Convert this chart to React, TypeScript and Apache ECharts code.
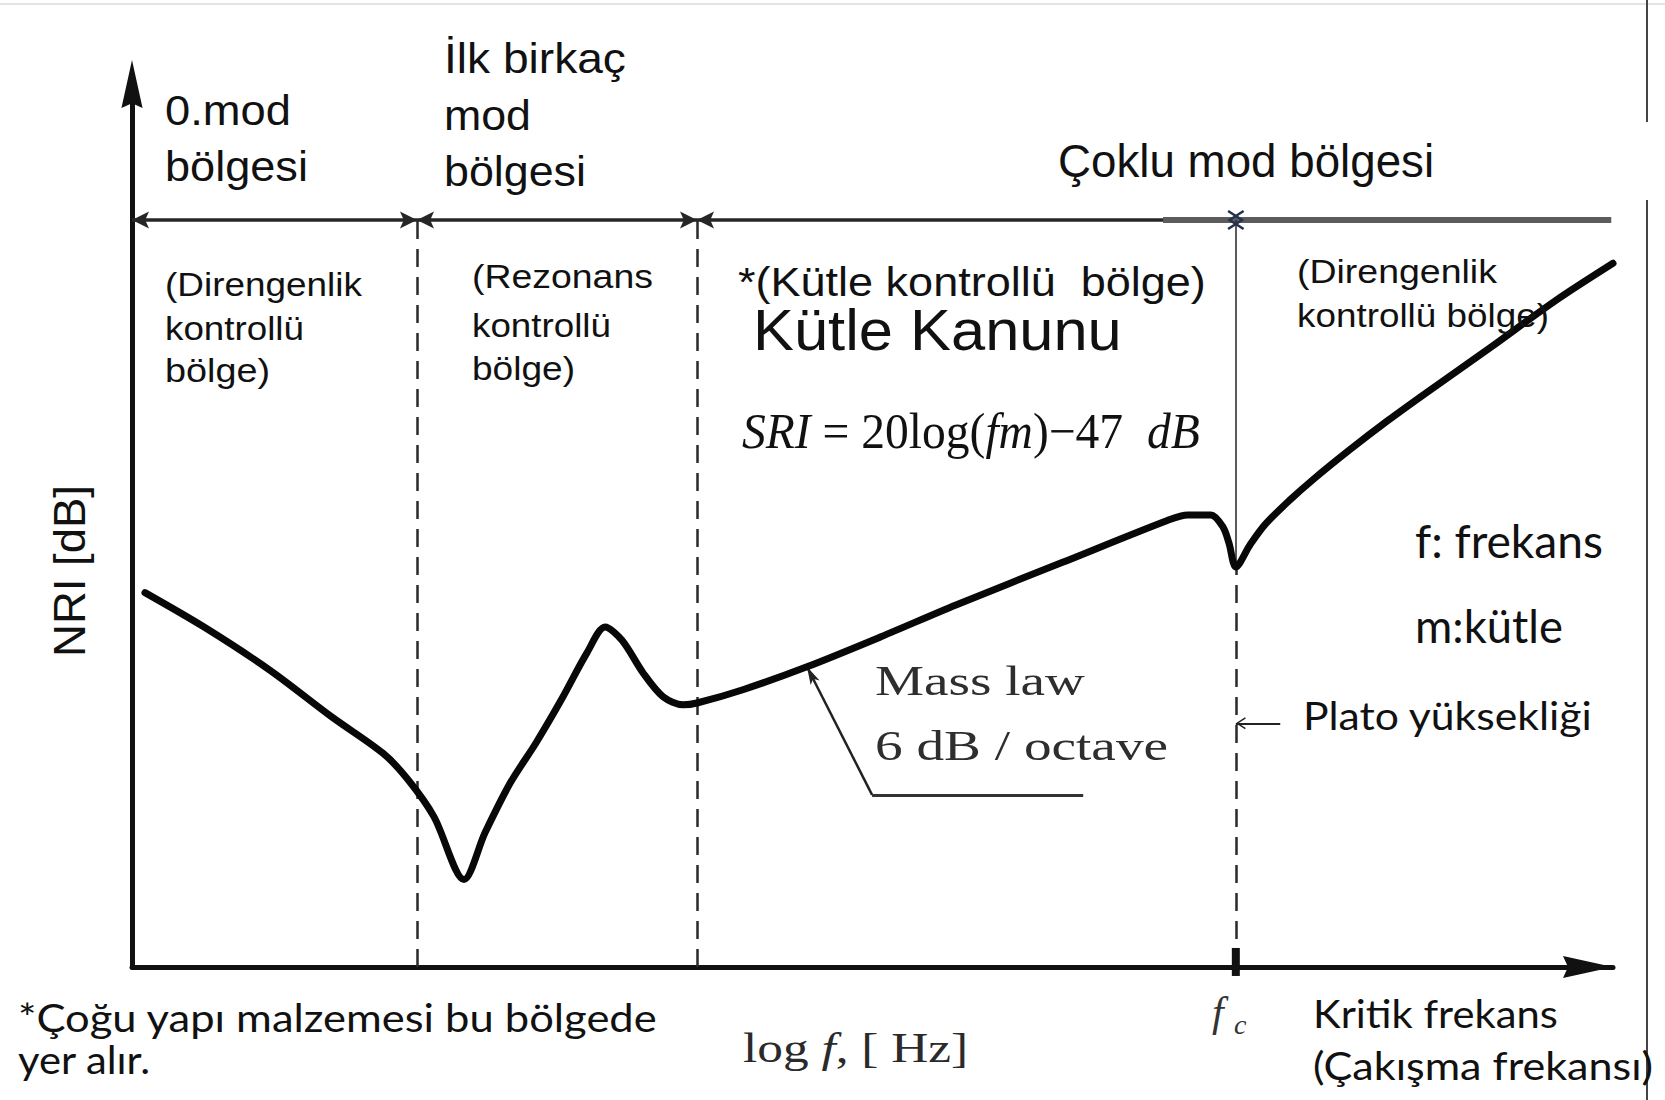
import { useEffect, useRef } from 'react';
import * as echarts from 'echarts';

// Curve: position on the log f axis (arbitrary units) and relative NRI level (dB)
const logF = [
  0.89, 4.95, 9.48, 13.74, 17.24, 18.96, 20.74, 22.8, 24.24, 25.96,
  27.75, 29.46, 31.25, 32.49, 33.65, 35.1, 36.47, 37.84, 38.8, 41.95,
  46.35, 51.43, 56.58, 63.86, 71.14, 72.51, 74.09, 74.93, 75.33, 75.8,
  76.77, 77.8, 79.52, 81.1, 83.64, 86.25, 88.85, 93.32, 97.78, 101.7,
];
const nriDb = [
  42.4, 38.5, 33.6, 28.3, 24.2, 21.2, 17.0, 9.9, 15.2, 20.8,
  25.4, 30.2, 35.6, 38.5, 37.0, 33.3, 30.6, 29.7, 29.9, 31.4,
  34.0, 37.4, 41.0, 45.8, 50.6, 51.2, 51.2, 49.8, 48.0, 45.3,
  47.8, 50.1, 52.9, 55.2, 58.6, 61.9, 65.0, 70.2, 75.5, 79.7,
];

// Extent of the log f axis
const logFMax = 101.7;
// Region boundaries on the log f axis (axis origin, stiffness/resonance, resonance/mass)
const regionEdges = [0, 19.57, 38.8];
// Critical (coincidence) frequency
const fc = 75.8;
// Level of the region arrows and top of the boundary lines
const headerLevel = 84.6;
const boundaryTop = 85.5;
const headerEnd = 101.58;
const heavyStart = 70.8;
// Mass-law leader line: point on the curve, elbow, end
const massLawLeader = [
  [46.35, 34.0],
  [50.82, 19.5],
  [65.32, 19.5],
];
// "Plato yüksekliği" pointer
const plateauArrow = [
  [78.85, 27.6],
  [75.8, 27.6],
];

const SANS = '"Liberation Sans", Arial, sans-serif';
const SERIF = '"Liberation Serif", "Times New Roman", serif';
const HUMAN = 'Lato, "Open Sans", sans-serif';

const CENTRAL: Record<string, number> = {
  [SANS]: 0.3465,
  [SERIF]: 0.3375,
  [HUMAN]: 0.387,
};

const DART = 'path://M0,0 L9,18 L0,14 L-9,18 Z';
const CHEVRON = 'path://M0,0 L10,16 L8,17.5 L0,4.5 L-8,17.5 L-10,16 Z';
const TIP = 'path://M0,0 L5,16 L0,12 L-5,16 Z';
const AXIS_HEAD = 'path://M0,0 L11,50 L0,45 L-11,50 Z';

type Label = {
  text: string;
  x: number;
  base: number;
  size: number;
  family: string;
  width?: number;
  color?: string;
  italic?: boolean;
  rich?: boolean;
  measure?: string;
};

const labels: Label[] = [
  { text: '0.mod', x: 165, base: 125, size: 42, family: SANS, width: 126 },
  { text: 'bölgesi', x: 165, base: 181, size: 42, family: SANS, width: 143 },
  { text: 'İlk birkaç', x: 444, base: 73, size: 42, family: SANS, width: 182 },
  { text: 'mod', x: 444, base: 130, size: 42, family: SANS, width: 87 },
  { text: 'bölgesi', x: 444, base: 186, size: 42, family: SANS, width: 142 },
  { text: 'Çoklu mod bölgesi', x: 1058, base: 177, size: 46, family: SANS, width: 376 },
  { text: '(Direngenlik', x: 165, base: 296, size: 33, family: SANS, width: 197 },
  { text: 'kontrollü', x: 165, base: 340, size: 33, family: SANS, width: 139 },
  { text: 'bölge)', x: 165, base: 382, size: 33, family: SANS, width: 105 },
  { text: '(Rezonans', x: 472, base: 288, size: 33, family: SANS, width: 181 },
  { text: 'kontrollü', x: 472, base: 337, size: 33, family: SANS, width: 139 },
  { text: 'bölge)', x: 472, base: 380, size: 33, family: SANS, width: 103 },
  { text: '*(Kütle kontrollü  bölge)', x: 738, base: 296, size: 41, family: SANS, width: 468 },
  { text: 'Kütle Kanunu', x: 753, base: 350, size: 58, family: SANS, width: 369 },
  { text: '(Direngenlik', x: 1297, base: 283, size: 33, family: SANS, width: 200 },
  { text: 'kontrollü bölge)', x: 1297, base: 327, size: 33, family: SANS, width: 252 },
  {
    text: '{i|SRI} = 20log({i|fm})−47  {i|dB}',
    measure: 'SRI = 20log(fm)−47  dB',
    rich: true,
    x: 742, base: 448, size: 50, family: SERIF, width: 471,
  },
  { text: 'f: frekans', x: 1415, base: 558, size: 46, family: HUMAN, width: 188 },
  { text: 'm:kütle', x: 1415, base: 643, size: 46, family: HUMAN, width: 148 },
  { text: 'Plato yüksekliği', x: 1303, base: 730, size: 38, family: HUMAN, width: 290 },
  { text: 'Mass law', x: 875, base: 695, size: 43, family: SERIF, width: 210, color: '#2e2e2e' },
  { text: '6 dB / octave', x: 875, base: 760, size: 43, family: SERIF, width: 293, color: '#2e2e2e' },
  {
    text: 'log {i|f}, [ Hz]',
    measure: 'log f, [ Hz]',
    rich: true,
    x: 743, base: 1062, size: 42, family: SERIF, width: 228, color: '#2a2a2a',
  },
  { text: 'f', x: 1212, base: 1026, size: 42, family: SERIF, italic: true, color: '#333' },
  { text: 'c', x: 1234, base: 1034, size: 28, family: SERIF, italic: true, color: '#333' },
  { text: '*Çoğu yapı malzemesi bu bölgede', x: 18, base: 1032, size: 38, family: HUMAN, width: 640 },
  { text: 'yer alır.', x: 18, base: 1074, size: 38, family: HUMAN, width: 133 },
  { text: 'Kritik frekans', x: 1313, base: 1028, size: 38, family: HUMAN, width: 245 },
  { text: '(Çakışma frekansı)', x: 1313, base: 1080, size: 38, family: HUMAN, width: 340 },
];

const measureCtx =
  typeof document !== 'undefined' ? document.createElement('canvas').getContext('2d') : null;

function fitScale(text: string, size: number, family: string, italic: boolean, target?: number) {
  if (!measureCtx || !target) return 1;
  measureCtx.font = `${italic ? 'italic' : 'normal'} normal ${size}px ${family}`;
  const w = measureCtx.measureText(text).width;
  if (!w) return 1;
  return Math.max(0.8, Math.min(1.4, target / w));
}

function textElement(l: Label) {
  const scaleX = fitScale(l.measure ?? l.text, l.size, l.family, !!l.italic, l.width);
  const style: any = {
    text: l.text,
    x: 0,
    y: 0,
    fill: l.color ?? '#111',
    fontSize: l.size,
    fontFamily: l.family,
    fontStyle: l.italic ? 'italic' : 'normal',
    align: 'left',
    verticalAlign: 'middle',
    textAlign: 'left',
    textVerticalAlign: 'middle',
  };
  if (l.rich) {
    style.rich = {
      i: { fontStyle: 'italic', fontSize: l.size, fontFamily: l.family, fill: l.color ?? '#111' },
    };
  }
  return {
    type: 'text',
    x: l.x,
    y: l.base - (CENTRAL[l.family] ?? 0.35) * l.size,
    scaleX,
    silent: true,
    z: 20,
    style,
  };
}

type End = { symbol: string; size: number[]; offset?: number[] };

function segment(a: number[], b: number[], lineStyle: any, from?: End, to?: End) {
  const end = (e?: End) =>
    e
      ? { symbol: e.symbol, symbolSize: e.size, symbolOffset: e.offset ?? [0, 0] }
      : { symbol: 'none' };
  return [
    { coord: a, lineStyle, ...end(from) },
    { coord: b, ...end(to) },
  ];
}

function buildOption() {
  const curve = logF.map((x, i) => [x, nriDb[i]]);
  const fcLevel = nriDb[logF.indexOf(fc)];

  const dart: End = { symbol: DART, size: [17, 17], offset: [0, 8.5] };
  const chevron: End = { symbol: CHEVRON, size: [20, 17] };
  const headerStyle = { color: '#262626', width: 3.5, type: 'solid' };
  const dashed = { color: '#2a2a2a', width: 2.5, type: [18, 10] };

  const marks = [
    segment([regionEdges[0], headerLevel], [regionEdges[1], headerLevel], headerStyle, dart, dart),
    segment([regionEdges[1], headerLevel], [regionEdges[2], headerLevel], headerStyle, dart, dart),
    segment([regionEdges[2], headerLevel], [fc, headerLevel], headerStyle, dart),
    segment([heavyStart, headerLevel], [headerEnd, headerLevel], { color: '#5c5c5c', width: 6, type: 'solid' }),
    segment([fc - 3, headerLevel], [fc, headerLevel], { color: '#243250', width: 0 }, undefined, chevron),
    segment([fc, headerLevel], [fc + 3, headerLevel], { color: '#243250', width: 0 }, chevron),
    segment([regionEdges[1], 0], [regionEdges[1], boundaryTop], dashed),
    segment([regionEdges[2], 0], [regionEdges[2], boundaryTop], dashed),
    segment([fc, 0], [fc, fcLevel], dashed),
    segment([fc, fcLevel], [fc, headerLevel], { color: '#333', width: 1.6, type: 'solid' }),
    segment(massLawLeader[0], massLawLeader[1], { color: '#222', width: 2.5, type: 'solid' }, {
      symbol: TIP,
      size: [10, 18],
      offset: [0, 9],
    }),
    segment(massLawLeader[1], massLawLeader[2], { color: '#333', width: 3, type: 'solid' }),
    segment(plateauArrow[0], plateauArrow[1], { color: '#222', width: 1.8, type: 'solid' }, undefined, {
      symbol: CHEVRON,
      size: [12, 10],
      offset: [0, 5],
    }),
  ];

  const axisCommon = {
    type: 'value',
    min: 0,
    axisTick: { show: false },
    axisLabel: { show: false },
    splitLine: { show: false },
  };

  return {
    animation: false,
    backgroundColor: '#ffffff',
    grid: { left: 132, right: 52, top: 84, bottom: 133, containLabel: false },
    xAxis: {
      ...axisCommon,
      max: logFMax,
      axisLine: {
        show: true,
        symbol: ['none', AXIS_HEAD],
        symbolSize: [22, 50],
        symbolOffset: [0, -25],
        lineStyle: { color: '#111', width: 5 },
      },
    },
    yAxis: {
      ...axisCommon,
      max: 100,
      axisLine: {
        show: true,
        symbol: ['none', AXIS_HEAD],
        symbolSize: [22, 48],
        lineStyle: { color: '#111', width: 5 },
      },
    },
    series: [
      {
        type: 'line',
        data: curve,
        symbol: 'none',
        smooth: 0.3,
        clip: false,
        silent: true,
        z: 5,
        lineStyle: { color: '#080808', width: 7, cap: 'round', join: 'round' },
        markLine: {
          silent: true,
          symbol: ['none', 'none'],
          label: { show: false },
          emphasis: { disabled: true },
          animation: false,
          data: marks,
        },
        markPoint: {
          silent: true,
          animation: false,
          label: { show: false },
          data: [
            {
              coord: [fc, 0.57],
              symbol: 'rect',
              symbolSize: [8, 28],
              itemStyle: { color: '#111' },
            },
          ],
        },
      },
    ],
    graphic: {
      elements: [
        {
          type: 'line',
          silent: true,
          shape: { x1: 0, y1: 4, x2: 1665, y2: 4 },
          style: { stroke: '#e4e4e4', lineWidth: 2 },
        },
        {
          type: 'line',
          silent: true,
          shape: { x1: 1647, y1: 0, x2: 1647, y2: 122 },
          style: { stroke: '#444', lineWidth: 2 },
        },
        {
          type: 'line',
          silent: true,
          shape: { x1: 1647, y1: 200, x2: 1647, y2: 1100 },
          style: { stroke: '#444', lineWidth: 2 },
        },
        {
          type: 'text',
          x: 70,
          y: 571,
          rotation: Math.PI / 2,
          scaleX: fitScale('NRI [dB]', 45, SANS, false, 172),
          silent: true,
          style: {
            text: 'NRI [dB]',
            x: 0,
            y: 0,
            fill: '#111',
            fontSize: 45,
            fontFamily: SANS,
            align: 'center',
            verticalAlign: 'middle',
            textAlign: 'center',
            textVerticalAlign: 'middle',
          },
        },
        ...labels.map(textElement),
      ],
    },
  };
}

export default function App() {
  const ref = useRef<HTMLDivElement>(null);
  useEffect(() => {
    if (!ref.current) return;
    const chart = echarts.init(ref.current, null, { renderer: 'svg' });
    chart.setOption(buildOption() as any);
    return () => chart.dispose();
  }, []);
  return (
    <div
      ref={ref}
      style={{ position: 'fixed', left: 0, top: 0, width: 1665, height: 1100, background: '#fff' }}
    />
  );
}
